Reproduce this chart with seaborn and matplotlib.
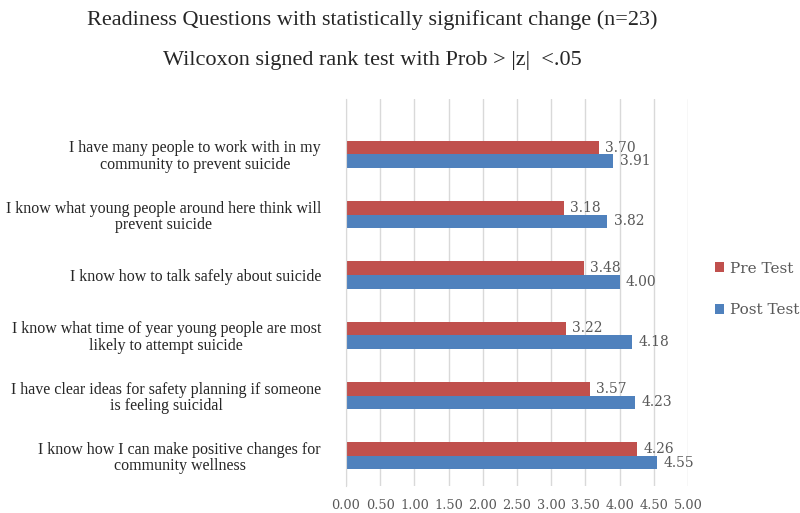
import pandas as pd
import matplotlib
matplotlib.use('Agg')
import matplotlib.pyplot as plt
import seaborn as sns

# Chart data
questions = [
    'I have many people to work with in my\ncommunity to prevent suicide',
    'I know what young people around here think will\nprevent suicide',
    'I know how to talk safely about suicide',
    'I know what time of year young people are most\nlikely to attempt suicide',
    'I have clear ideas for safety planning if someone\nis feeling suicidal',
    'I know how I can make positive changes for\ncommunity wellness',
]
pre_test = [3.70, 3.18, 3.48, 3.22, 3.57, 4.26]
post_test = [3.91, 3.82, 4.00, 4.18, 4.23, 4.55]
tests = ['Pre Test', 'Post Test']
x_ticks = [0.0, 0.5, 1.0, 1.5, 2.0, 2.5, 3.0, 3.5, 4.0, 4.5, 5.0]

df = pd.DataFrame({
    'question': questions * 2,
    'score': pre_test + post_test,
    'test': [tests[0]] * len(questions) + [tests[1]] * len(questions),
})

sns.set_style('white')
plt.rcParams['font.family'] = ['Liberation Serif', 'DejaVu Serif']

fig = plt.figure(figsize=(8, 5.13), dpi=100)
ax = fig.add_axes([0.4325, 0.0526, 0.4275, 0.754])

sns.barplot(data=df, y='question', x='score', hue='test', orient='h',
            order=questions, hue_order=tests,
            palette={'Pre Test': '#C0504D', 'Post Test': '#4F81BD'},
            saturation=1, width=0.45, gap=0, linewidth=0, errorbar=None, ax=ax)

# value labels
for cont in ax.containers:
    ax.bar_label(cont, fmt='%.2f', padding=4.5, fontsize=10,
                 color='#595959', family='DejaVu Serif')

ax.set_xlim(0, 5)
ax.set_ylim(5.5, -0.915)
ax.set_xticks(x_ticks)
ax.set_xticklabels([f'{v:.2f}' for v in x_ticks], family='DejaVu Serif',
                   fontsize=9.3, color='#595959')
ax.tick_params(axis='x', length=0, pad=9)

ax.set_yticks(range(len(questions)))
ax.set_yticklabels(questions, fontsize=11.5, color='#262626')
for lab in ax.get_yticklabels():
    lab.set_multialignment('center')
    lab.set_linespacing(1.05)
ax.tick_params(axis='y', which='major', length=0, pad=18)
ax.set_yticks([i - 0.5 for i in range(len(questions) + 1)], minor=True)
ax.tick_params(axis='y', which='minor', length=5, color='#d9d9d9', width=1)

ax.grid(axis='x', color='#d9d9d9', linewidth=1)
ax.set_axisbelow(True)
for s in ['top', 'right', 'bottom']:
    ax.spines[s].set_visible(False)
ax.spines['left'].set_color('#d9d9d9')
ax.set_xlabel('')
ax.set_ylabel('')

handles, labels = ax.get_legend_handles_labels()
ax.legend(handles, labels, loc='center left', bbox_to_anchor=(0.876, 0.436),
          bbox_transform=fig.transFigure, frameon=False,
          handlelength=0.6, handleheight=0.6, handletextpad=0.4,
          labelspacing=1.8, prop={'family': 'DejaVu Serif', 'size': 11},
          labelcolor='#595959')

fig.text(0.465, 0.961, 'Readiness Questions with statistically significant change (n=23)',
         ha='center', va='center', fontsize=16, color='#262626')
fig.text(0.465, 0.883, 'Wilcoxon signed rank test with Prob > |z|  <.05',
         ha='center', va='center', fontsize=16, color='#262626')

fig.savefig('out.png', dpi=100)
